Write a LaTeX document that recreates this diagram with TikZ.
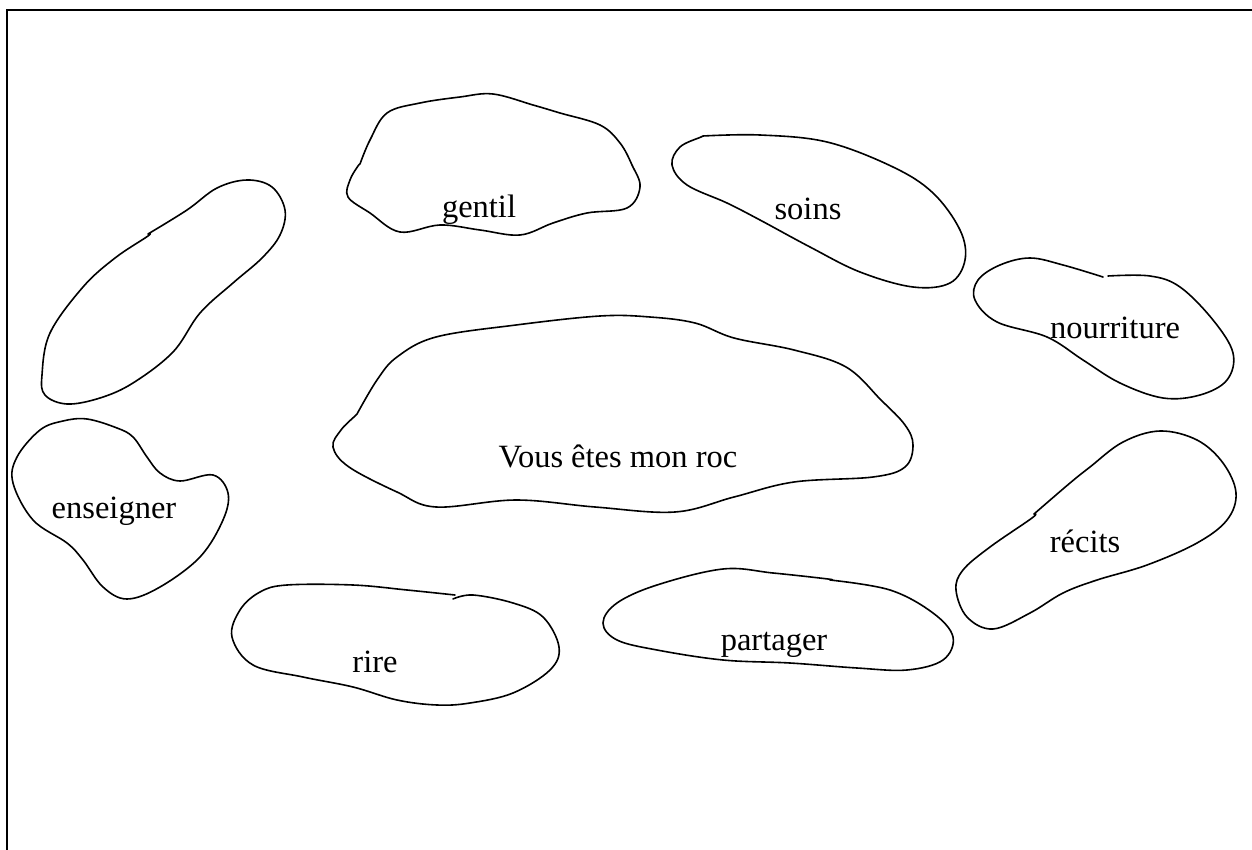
\documentclass[tikz,border=0pt]{standalone}
\usepackage{fontspec}
\setmainfont{Liberation Serif}
\tikzset{
  blob/.style={draw=black, line width=1.6pt, line join=round, line cap=round},
  frameline/.style={draw=black, line width=2.3pt},
  lbl/.style={anchor=base, inner sep=0pt, font=\fontsize{32.5}{39}\selectfont}
}
\begin{document}
\begin{tikzpicture}[x=1pt, y=-1pt]
\useasboundingbox (0,0) rectangle (1252,850);
% frame (only left and top edges visible)
\draw[frameline] (7,851) -- (7,10) -- (1253,10);

% top-left empty blob
\draw[blob] plot[smooth, tension=0.6] coordinates {(148,234) (187,210) (217,188) (247,180) (272,187) (285,210) (280,235) (262,258) (233,283) (200,313) (173,352) (133,383) (100,398) (67,404) (45,395) (42,375) (50,333) (83,287) (115,258) (148,236) (148,234)};

% gentil
\draw[blob] plot[smooth, tension=0.6] coordinates {(360,164) (370,140) (387,113) (420,103) (460,97) (493,94) (533,105) (560,113) (600,125) (620,143) (632,165) (640,187) (627,208) (587,213) (553,223) (520,235) (480,230) (440,225) (400,232) (370,213) (348,197) (350,180) (358,166) (360,164)};
\node[lbl] (gentil) at (479,218) {gentil};

% soins
\draw[blob] plot[smooth, tension=0.6] coordinates {(703,136) (760,135) (827,142) (893,167) (933,193) (960,230) (965,260) (950,283) (913,287) (860,272) (810,247) (760,220) (727,203) (687,185) (672,165) (680,147) (701,137) (703,136)};
\node[lbl] (soins) at (808,220) {soins};

% nourriture
\draw[blob] plot[smooth, tension=0.6] coordinates {(1108,276) (1150,276) (1180,287) (1213,320) (1233,353) (1227,380) (1200,395) (1163,398) (1120,383) (1083,360) (1047,337) (997,322) (975,300) (978,280) (1000,265) (1030,258) (1063,265) (1103,277)};
\node[lbl] (nourriture) at (1115,338) {nourriture};

% central
\draw[blob] plot[smooth, tension=0.6] coordinates {(357,414) (377,380) (397,357) (436,337) (516,325) (600,316) (650,317) (695,323) (734,338) (794,350) (846,367) (881,400) (905,425) (913,445) (905,467) (873,477) (794,482) (734,497) (675,512) (595,507) (516,500) (436,507) (397,492) (349,467) (333,447) (341,430) (355,416) (357,414)};
\node[lbl] (roc) at (618,467) {Vous êtes mon roc};

% enseigner
\draw[blob] plot[smooth cycle, tension=0.6] coordinates {(87,419) (117,428) (133,437) (147,457) (160,473) (180,481) (213,475) (228,493) (223,520) (200,557) (160,587) (127,599) (103,587) (83,560) (67,543) (33,520) (13,483) (17,457) (40,430) (63,421)};
\node[lbl] (enseigner) at (114,518) {enseigner};

% rire
\draw[blob] plot[smooth, tension=0.6] coordinates {(453,599) (473,595) (513,603) (543,617) (559,647) (550,670) (513,693) (470,703) (437,705) (397,700) (353,687) (303,677) (253,665) (232,637) (240,610) (260,592) (287,585) (353,585) (407,590) (455,595)};
\node[lbl] (rire) at (375,672) {rire};

% partager
\draw[blob] plot[smooth, tension=0.6] coordinates {(830,580) (890,590) (933,613) (953,637) (943,660) (907,670) (857,668) (790,663) (723,660) (657,650) (617,640) (603,623) (617,603) (657,585) (723,569) (773,573) (828,579) (830,580)};
\node[lbl] (partager) at (774,650) {partager};

% recits
\draw[blob] plot[smooth, tension=0.6] coordinates {(1034,514) (1070,483) (1090,467) (1123,442) (1160,431) (1197,440) (1223,463) (1236,493) (1227,520) (1197,543) (1147,565) (1097,580) (1063,593) (1030,613) (993,629) (967,617) (956,590) (963,570) (990,547) (1032,518) (1034,514)};
\node[lbl] (recits) at (1085,552) {récits};
\end{tikzpicture}
\end{document}
